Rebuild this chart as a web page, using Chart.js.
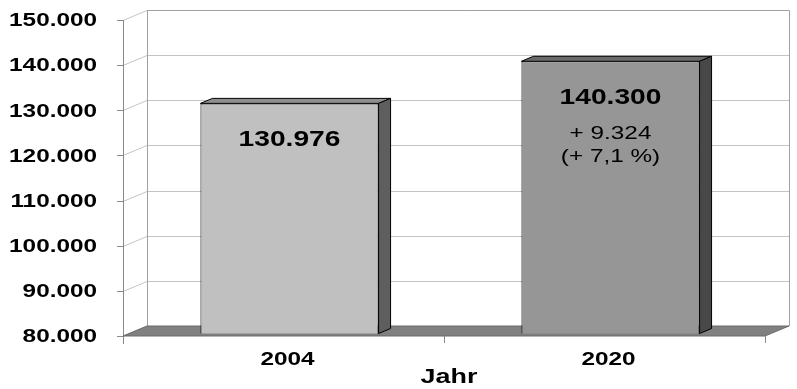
<!DOCTYPE html>
<html>
<head>
<meta charset="utf-8">
<script src="https://cdn.jsdelivr.net/npm/chart.js@4/dist/chart.umd.min.js"></script>
<style>
  html, body { margin: 0; padding: 0; background: #fff; }
  #wrap { width: 797px; height: 389px; }
</style>
</head>
<body>
<div id="wrap"><canvas id="chart" width="797" height="389"></canvas></div>
<script>
// data
var years = ['2004', '2020']
var einwohner = [130976, 140300]
var changeLines = [[], ['+ 9.324', '(+ 7,1 %)']]
var yTicks = [80000, 90000, 100000, 110000, 120000, 130000, 140000, 150000]
var axisTitle = 'Jahr'

var frontColors = ['#c0c0c0', '#969696']
var topColors = ['#8e8e8e', '#6a6a6a']
var sideColors = ['#5e5e5e', '#484848']

// depth of the 3d box, bars sit between 1/4 and 3/4 of it
var DX = 24, DY = -10
var SX = 1.28 // source picture is stretched horizontally

function fmt(n) {
  return String(n).replace(/\B(?=(\d{3})+(?!\d))/g, '.')
}

function stretchedText(ctx, txt, x, y, font, align) {
  ctx.save()
  ctx.font = font
  ctx.textAlign = align || 'center'
  ctx.textBaseline = 'middle'
  ctx.fillStyle = '#000'
  ctx.translate(x, y)
  ctx.scale(SX, 1)
  ctx.fillText(txt, 0, 0)
  ctx.restore()
}

var box3d = {
  id: 'box3d',
  beforeDatasetsDraw: function (chart) {
    var ctx = chart.ctx, ca = chart.chartArea, ys = chart.scales.y, xs = chart.scales.x
    ctx.save()
    ctx.lineWidth = 1
    // gridlines on side and back wall
    ctx.strokeStyle = '#c4c4c4'
    yTicks.forEach(function (v) {
      var y = Math.round(ys.getPixelForValue(v)) + 0.5
      ctx.beginPath()
      ctx.moveTo(ca.left, y)
      ctx.lineTo(ca.left + DX, y + DY)
      ctx.lineTo(ca.right + DX, y + DY)
      ctx.stroke()
    })
    // wall edges
    ctx.strokeStyle = '#a0a0a0'
    ctx.beginPath()
    ctx.moveTo(ca.left + DX + 0.5, ca.bottom + DY)
    ctx.lineTo(ca.left + DX + 0.5, ca.top + DY + 0.5)
    ctx.lineTo(ca.right + DX + 0.5, ca.top + DY + 0.5)
    ctx.lineTo(ca.right + DX + 0.5, ca.bottom + DY)
    ctx.stroke()
    ctx.strokeStyle = '#8a8a8a'
    ctx.beginPath()
    ctx.moveTo(ca.left + 0.5, ca.top)
    ctx.lineTo(ca.left + 0.5, ca.bottom + 8)
    ctx.stroke()
    // tick marks
    yTicks.forEach(function (v) {
      var y = Math.round(ys.getPixelForValue(v)) + 0.5
      ctx.beginPath()
      ctx.moveTo(ca.left - 6, y)
      ctx.lineTo(ca.left, y)
      ctx.stroke()
    })
    var half = (xs.getPixelForValue(1) - xs.getPixelForValue(0)) / 2
    for (var i = 0; i <= years.length; i++) {
      var x = Math.round(xs.getPixelForValue(0) - half + i * 2 * half) + 0.5
      ctx.beginPath()
      ctx.moveTo(x, ca.bottom)
      ctx.lineTo(x, ca.bottom + 7)
      ctx.stroke()
    }
    // floor
    ctx.fillStyle = '#808080'
    ctx.beginPath()
    ctx.moveTo(ca.left, ca.bottom)
    ctx.lineTo(ca.right, ca.bottom)
    ctx.lineTo(ca.right + DX, ca.bottom + DY)
    ctx.lineTo(ca.left + DX, ca.bottom + DY)
    ctx.closePath()
    ctx.fill()
    ctx.strokeStyle = '#6a6a6a'
    ctx.stroke()
    ctx.restore()

    // bars are drawn on the plane at 1/4 depth
    ctx.save()
    ctx.translate(DX / 4, DY / 4)
  },
  afterDatasetsDraw: function (chart) {
    var ctx = chart.ctx, ys = chart.scales.y
    ctx.restore()
    var meta = chart.getDatasetMeta(0)
    var ox = DX / 4, oy = DY / 4, dx = DX / 2, dy = DY / 2
    var floorY = ys.getPixelForValue(ys.min)
    ctx.save()
    ctx.lineWidth = 1
    ctx.strokeStyle = '#000'
    meta.data.forEach(function (bar, i) {
      var l = bar.x - bar.width / 2 + ox, r = bar.x + bar.width / 2 + ox
      var t = bar.y + oy, b = Math.min(bar.base, floorY) + oy
      ctx.fillStyle = topColors[i]
      ctx.beginPath()
      ctx.moveTo(l, t); ctx.lineTo(r, t); ctx.lineTo(r + dx, t + dy); ctx.lineTo(l + dx, t + dy)
      ctx.closePath(); ctx.fill(); ctx.stroke()
      ctx.fillStyle = sideColors[i]
      ctx.beginPath()
      ctx.moveTo(r, t); ctx.lineTo(r + dx, t + dy); ctx.lineTo(r + dx, b + dy); ctx.lineTo(r, b)
      ctx.closePath(); ctx.fill(); ctx.stroke()

      var cx = bar.x + ox
      stretchedText(ctx, fmt(einwohner[i]), cx, t + 37, 'bold 22px "Liberation Sans", Arial, sans-serif')
      changeLines[i].forEach(function (s, k) {
        stretchedText(ctx, s, cx, t + 72 + k * 23, '19px "Liberation Sans", Arial, sans-serif')
      })
    })
    ctx.restore()
  },
  afterDraw: function (chart) {
    var ctx = chart.ctx, ca = chart.chartArea, ys = chart.scales.y, xs = chart.scales.x
    yTicks.forEach(function (v) {
      stretchedText(ctx, fmt(v), 97, ys.getPixelForValue(v) + 1, 'bold 19px "Liberation Sans", Arial, sans-serif', 'right')
    })
    years.forEach(function (yr, i) {
      stretchedText(ctx, yr, xs.getPixelForValue(i) + 4, 360, 'bold 19px "Liberation Sans", Arial, sans-serif')
    })
    stretchedText(ctx, axisTitle, (ca.left + ca.right) / 2 + 5, 377, 'bold 21px "Liberation Sans", Arial, sans-serif')
  }
}

var ctx = document.getElementById('chart').getContext('2d')
new Chart(ctx, {
  type: 'bar',
  data: {
    labels: years,
    datasets: [{
      label: 'Einwohner',
      data: einwohner,
      backgroundColor: frontColors,
      borderColor: '#000',
      borderWidth: 1,
      borderSkipped: false,
      barPercentage: 0.555,
      categoryPercentage: 1
    }]
  },
  options: {
    responsive: false,
    animation: false,
    events: [],
    layout: { padding: { left: 123, top: 20, right: 32, bottom: 53 } },
    plugins: { legend: { display: false }, tooltip: { enabled: false } },
    scales: {
      x: { display: false },
      y: { display: false, min: 80000, max: 150000 }
    }
  },
  plugins: [box3d]
})
</script>
</body>
</html>
